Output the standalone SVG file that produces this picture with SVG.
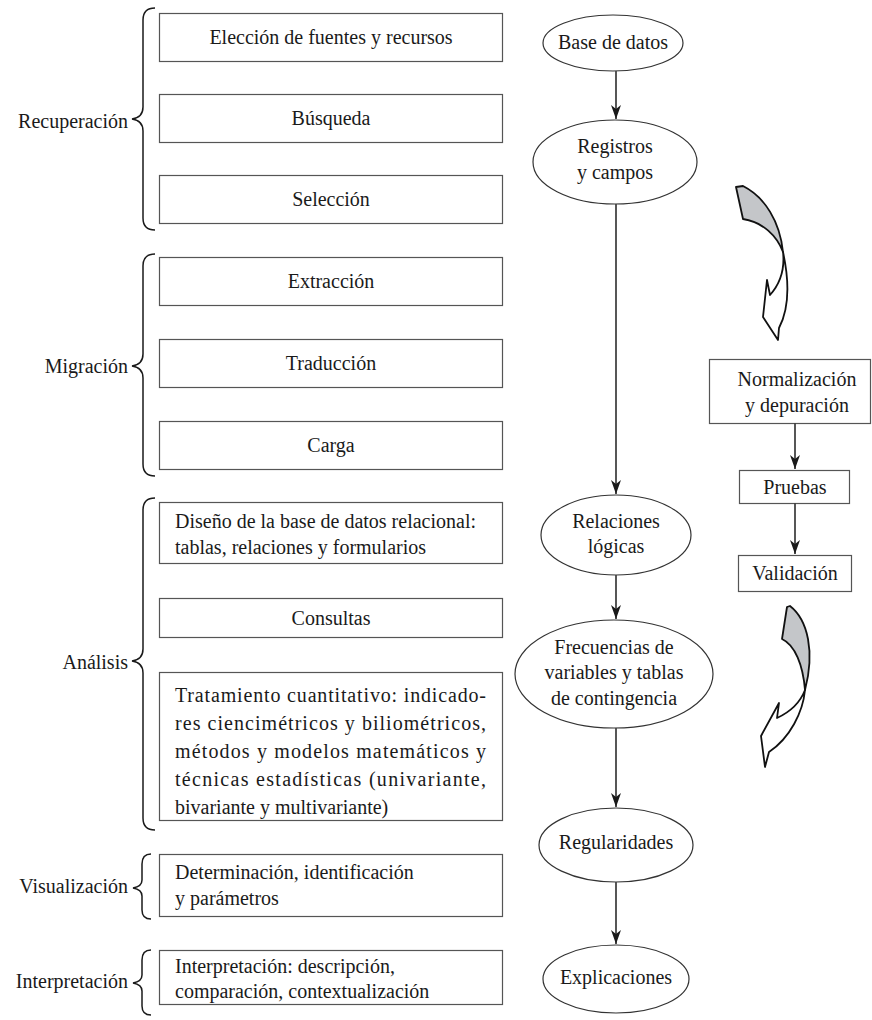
<svg xmlns="http://www.w3.org/2000/svg" width="872" height="1020" viewBox="0 0 872 1020">
<style>
.t{font-family:"Liberation Serif","Times New Roman",serif;font-size:20px;fill:#1a1a1a}
.c{text-anchor:middle}
.e{text-anchor:end}
.box{fill:#fff;stroke:#555;stroke-width:1.2}
.ell{fill:#fff;stroke:#333;stroke-width:1.2}
.brace{fill:none;stroke:#1a1a1a;stroke-width:1.5}
.con{fill:none;stroke:#444;stroke-width:1.8}
.ra{stroke:#111;stroke-width:1.8;stroke-linejoin:round}
</style>
<defs>
<marker id="ah" viewBox="0 0 14 10" refX="14" refY="5" markerWidth="14" markerHeight="10" markerUnits="userSpaceOnUse" orient="auto">
<path d="M0,0 L14,5 L0,10 L4,5 Z" fill="#1a1a1a"/>
</marker>
</defs>
<rect width="872" height="1020" fill="#fff"/>

<g id="label-recuperacion">
<path class="brace" d="M155,8 C147,8 143,12 143,20 L143,107 C143,114 139,118 132,119 C139,120 143,124 143,131 L143,218 C143,226 147,230 155,230"/>
<text class="t e" x="128" y="128">Recuperación</text>
</g>
<g id="label-migracion">
<path class="brace" d="M155,254 C147,254 143,258 143,266 L143,354 C143,361 139,365 132,366 C139,367 143,371 143,378 L143,464 C143,472 147,476 155,476"/>
<text class="t e" x="128" y="373">Migración</text>
</g>
<g id="label-analisis">
<path class="brace" d="M155,498 C147,498 143,502 143,510 L143,649 C143,656 139,660 132,661 C139,662 143,666 143,673 L143,818 C143,826 147,830 155,830"/>
<text class="t e" x="128" y="669">Análisis</text>
</g>
<g id="label-visualizacion">
<path class="brace" d="M151,854 C145,854 142,858 142,864 L142,880 C142,885 139,887 133,888 C139,889 142,891 142,896 L142,910 C142,916 145,919 151,919"/>
<text class="t e" x="128" y="893">Visualización</text>
</g>
<g id="label-interpretacion">
<path class="brace" d="M151,950 C145,950 142,954 142,960 L142,975 C142,980 139,982 133,983 C139,984 142,986 142,991 L142,1006 C142,1012 145,1015 151,1015"/>
<text class="t e" x="128" y="988">Interpretación</text>
</g>

<g id="box-eleccion"><rect class="box" x="159.5" y="13.5" width="343" height="48"/><text class="t c" x="331" y="44">Elección de fuentes y recursos</text></g>
<g id="box-busqueda"><rect class="box" x="159.5" y="94.5" width="343" height="48"/><text class="t c" x="331" y="125">Búsqueda</text></g>
<g id="box-seleccion"><rect class="box" x="159.5" y="175.5" width="343" height="48"/><text class="t c" x="331" y="206">Selección</text></g>
<g id="box-extraccion"><rect class="box" x="159.5" y="257.5" width="343" height="48"/><text class="t c" x="331" y="288">Extracción</text></g>
<g id="box-traduccion"><rect class="box" x="159.5" y="339.5" width="343" height="48"/><text class="t c" x="331" y="370">Traducción</text></g>
<g id="box-carga"><rect class="box" x="159.5" y="421.5" width="343" height="48"/><text class="t c" x="331" y="452">Carga</text></g>
<g id="box-diseno"><rect class="box" x="159.5" y="502.5" width="343" height="61"/>
<text class="t" x="175" y="528">Diseño de la base de datos relacional:</text>
<text class="t" x="175" y="554">tablas, relaciones y formularios</text></g>
<g id="box-consultas"><rect class="box" x="159.5" y="598.5" width="343" height="39"/><text class="t c" x="331" y="625">Consultas</text></g>
<g id="box-tratamiento"><rect class="box" x="159.5" y="672.5" width="343" height="148"/>
<text class="t" x="175" y="702" textLength="311" lengthAdjust="spacing">Tratamiento cuantitativo: indicado-</text>
<text class="t" x="175" y="730" textLength="311" lengthAdjust="spacing">res ciencimétricos y biliométricos,</text>
<text class="t" x="175" y="758" textLength="311" lengthAdjust="spacing">métodos y modelos matemáticos y</text>
<text class="t" x="175" y="786" textLength="311" lengthAdjust="spacing">técnicas estadísticas (univariante,</text>
<text class="t" x="175" y="814">bivariante y multivariante)</text></g>
<g id="box-determinacion"><rect class="box" x="159.5" y="854.5" width="343" height="62"/>
<text class="t" x="175" y="879">Determinación, identificación</text>
<text class="t" x="175" y="905">y parámetros</text></g>
<g id="box-interpretacion"><rect class="box" x="159.5" y="950.5" width="343" height="54"/>
<text class="t" x="175" y="973">Interpretación: descripción,</text>
<text class="t" x="175" y="998">comparación, contextualización</text></g>

<g id="node-base"><ellipse class="ell" cx="613" cy="43" rx="70" ry="28"/><text class="t c" x="613" y="49">Base de datos</text></g>
<g id="node-registros"><ellipse class="ell" cx="615" cy="162" rx="82" ry="42"/>
<text class="t c" x="615" y="153">Registros</text><text class="t c" x="615" y="179">y campos</text></g>
<g id="node-relaciones"><ellipse class="ell" cx="616" cy="535" rx="75" ry="40"/>
<text class="t c" x="616" y="528">Relaciones</text><text class="t c" x="616" y="553">lógicas</text></g>
<g id="node-frecuencias"><ellipse class="ell" cx="614" cy="674" rx="99" ry="54"/>
<text class="t c" x="614" y="654">Frecuencias de</text><text class="t c" x="614" y="679">variables y tablas</text><text class="t c" x="614" y="705">de contingencia</text></g>
<g id="node-regularidades"><ellipse class="ell" cx="616" cy="845" rx="77" ry="37"/><text class="t c" x="616" y="849">Regularidades</text></g>
<g id="node-explicaciones"><ellipse class="ell" cx="616" cy="979" rx="73" ry="34"/><text class="t c" x="616" y="984">Explicaciones</text></g>

<g id="node-normalizacion"><rect class="box" x="709.5" y="359.5" width="161" height="64"/>
<text class="t c" x="797" y="386">Normalización</text><text class="t c" x="797" y="412">y depuración</text></g>
<g id="node-pruebas"><rect class="box" x="739.5" y="470.5" width="110" height="33"/><text class="t c" x="795" y="494">Pruebas</text></g>
<g id="node-validacion"><rect class="box" x="738.5" y="555.5" width="113" height="36"/><text class="t c" x="795" y="580">Validación</text></g>

<g id="connectors">
<line class="con" x1="616" y1="71" x2="616" y2="119" marker-end="url(#ah)"/>
<line class="con" x1="616" y1="204" x2="616" y2="494" marker-end="url(#ah)"/>
<line class="con" x1="616" y1="575" x2="616" y2="619" marker-end="url(#ah)"/>
<line class="con" x1="616" y1="728" x2="616" y2="807" marker-end="url(#ah)"/>
<line class="con" x1="616" y1="882" x2="616" y2="944" marker-end="url(#ah)"/>
<line class="con" x1="795" y1="423" x2="795" y2="469" marker-end="url(#ah)"/>
<line class="con" x1="795" y1="503" x2="795" y2="554" marker-end="url(#ah)"/>
</g>

<g id="curved-arrow-1">
<path class="ra" fill="#c4c6c9" d="M736,187 L743,186 C765,197 780,222 783,252 C777,236 763,222 743,219 Z"/>
<path class="ra" fill="#fff" d="M783,252 C788,275 791,305 779,328 L778,340 L763,317 L767,280 L770,295 C779,285 785,270 783,252 Z"/>
</g>
<g id="curved-arrow-2">
<path class="ra" fill="#c4c6c9" d="M787,607 L790,606 C808,620 815,652 805,690 C803,665 795,645 782,639 Z"/>
<path class="ra" fill="#fff" d="M805,690 C803,712 790,738 769,752 L765,767 L761,736 L779,703 L777,718 C790,712 800,703 805,690 Z"/>
</g>
</svg>
